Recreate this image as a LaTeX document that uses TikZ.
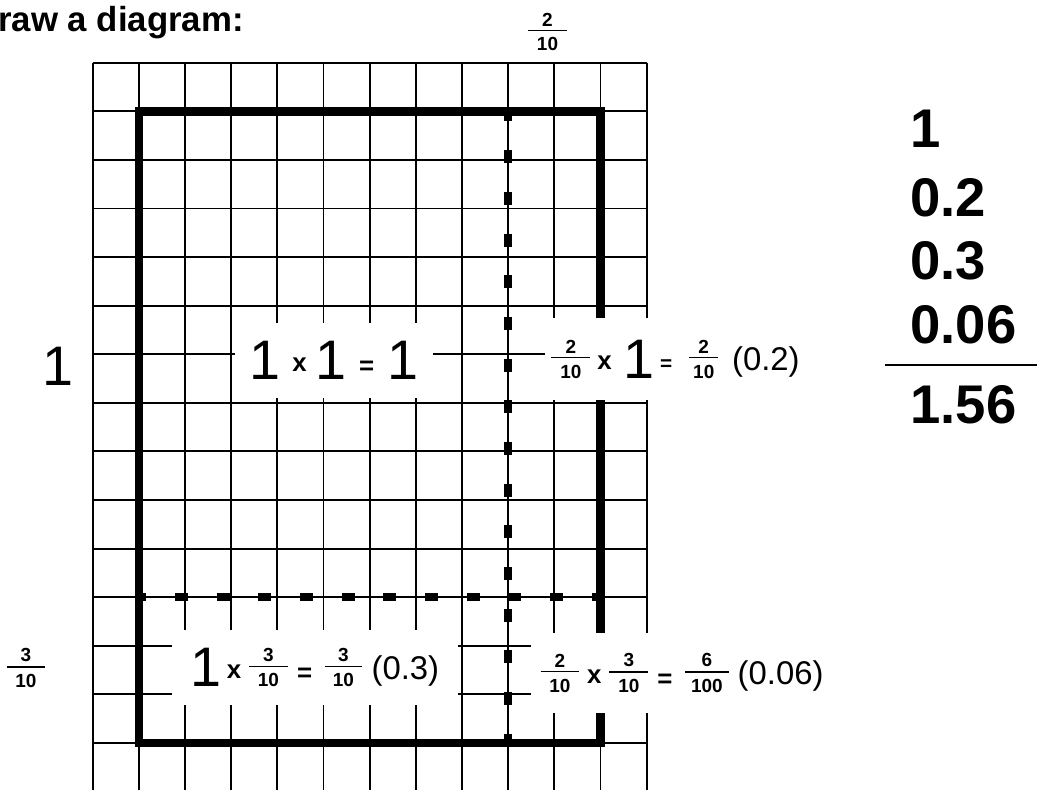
\documentclass[tikz,border=0pt]{standalone}
\usepackage{fontspec}
\setmainfont{Liberation Sans}
\newlength\px
\setlength\px{0.02cm}
% pieces of the little sums, all centred on the math axis
\newcommand\cv[1]{\ensuremath{\vcenter{\hbox{#1}}}}
\newcommand\bigone{\cv{\fontsize{31.7}{34}\selectfont 1}}
\newcommand\opx[1][14.7]{\cv{\fontsize{#1}{#1}\selectfont\bfseries\raisebox{-0.15em}[\height][\depth]{x}}}
\newcommand\opeq[1][14.7]{\cv{\fontsize{#1}{#1}\selectfont\bfseries\raisebox{-0.3em}[\height][\depth]{=}}}
\newcommand\frc[3][2.05em]{\cv{\fontsize{10.8}{12}\selectfont\bfseries
  \vbox{\offinterlineskip\hbox to #1{\hss#2\hss}\kern2.3pt
  \hrule height0.75pt\kern3.6pt\hbox to #1{\hss#3\hss}}}}
\newcommand\dec[1]{\cv{\fontsize{18.7}{20}\selectfont\raisebox{0pt}[\height][0pt]{#1}}}

\begin{document}
\begin{tikzpicture}[
    x=0.02cm, y=-0.02cm,
    gridline/.style={line width=1.1pt, black},
    frame/.style={line width=4.8pt, black},
    dashline/.style={line width=4.8pt, black, dash pattern=on 0.26cm off 0.574cm},
    eqbox/.style={fill=white, inner sep=0pt, font=\fontsize{18.7}{20}\selectfont},
    lbl/.style={inner sep=0pt},
    sumnum/.style={anchor=base west, inner sep=0pt, font=\fontsize{31}{34}\selectfont\bfseries}
]
\useasboundingbox (0,0) rectangle (1037,790);

% ===== Title =====
\node[lbl, anchor=base west, font=\fontsize{19.8}{22}\selectfont\bfseries] (title) at (-2,31.7) {raw a diagram:};

% ===== Grid paper =====
\begin{scope}[shift={(92.7,62.7)}, x=0.9234cm, y=-0.972cm]
  \foreach \k in {0,...,12} \draw[gridline] (\k,0) -- (\k,14.96);
  \foreach \j in {0,...,14} \draw[gridline] (0,\j) -- (12,\j);
  \draw[frame] (1,1) rectangle (11,14);
  \draw[dashline, dash phase=0.056cm] (9,1) -- (9,14);
  \draw[dashline, dash phase=0.114cm] (1,11) -- (11,11);
\end{scope}

% ===== Partial products =====
\node[eqbox, minimum width=3.96cm, minimum height=1.5cm] (eqA) at (334,360.5)
    {\bigone\hspace{12.3\px}\opx\hspace{8.7\px}\bigone\hspace{12.8\px}\opeq\hspace{13.7\px}\bigone};
\node[eqbox, minimum width=5.22cm, minimum height=1.64cm] (eqB) at (675.5,359)
    {\frc{2}{10}\hspace{7.2\px}\opx\hspace{11.4\px}\bigone\hspace{6\px}\opeq[11.8]\hspace{16.8\px}\frc[1.54em]{2}{10}\hspace{13.7\px}\dec{(0.2)}};
\node[eqbox, minimum width=5.72cm, minimum height=1.5cm] (eqC) at (315,667.5)
    {\bigone\hspace{5\px}\opx\hspace{7.8\px}\frc{3}{10}\hspace{9.1\px}\opeq\hspace{12.4\px}\frc[2em]{3}{10}\hspace{9.1\px}\dec{(0.3)}\hspace{13\px}};
\node[eqbox, minimum width=6.04cm, minimum height=1.6cm] (eqD) at (682,673)
    {\frc{2}{10}\hspace{7.8\px}\opx\hspace{7.8\px}\frc{3}{10}\hspace{9.1\px}\opeq\hspace{12.4\px}\frc[2.33em]{6}{100}\hspace{8.6\px}\dec{(0.06)}};

% ===== Side lengths =====
\node[lbl] (topfrac) at (547.5,32) {\frc{2}{10}};
\node[lbl] (sideone) at (58,366.5) {\bigone};
\node[lbl] (sidefrac) at (26,668) {\frc{3}{10}};

% ===== Running total =====
\node[sumnum] (sumA) at (910,148) {1};
\node[sumnum] (sumB) at (910,217) {0.2};
\node[sumnum] (sumC) at (910,280) {0.3};
\node[sumnum] (sumD) at (910,343) {0.06};
\draw[line width=1.5pt] (885,365) -- (1037,365);
\node[sumnum] (sumE) at (910,423) {1.56};

\end{tikzpicture}
\end{document}
